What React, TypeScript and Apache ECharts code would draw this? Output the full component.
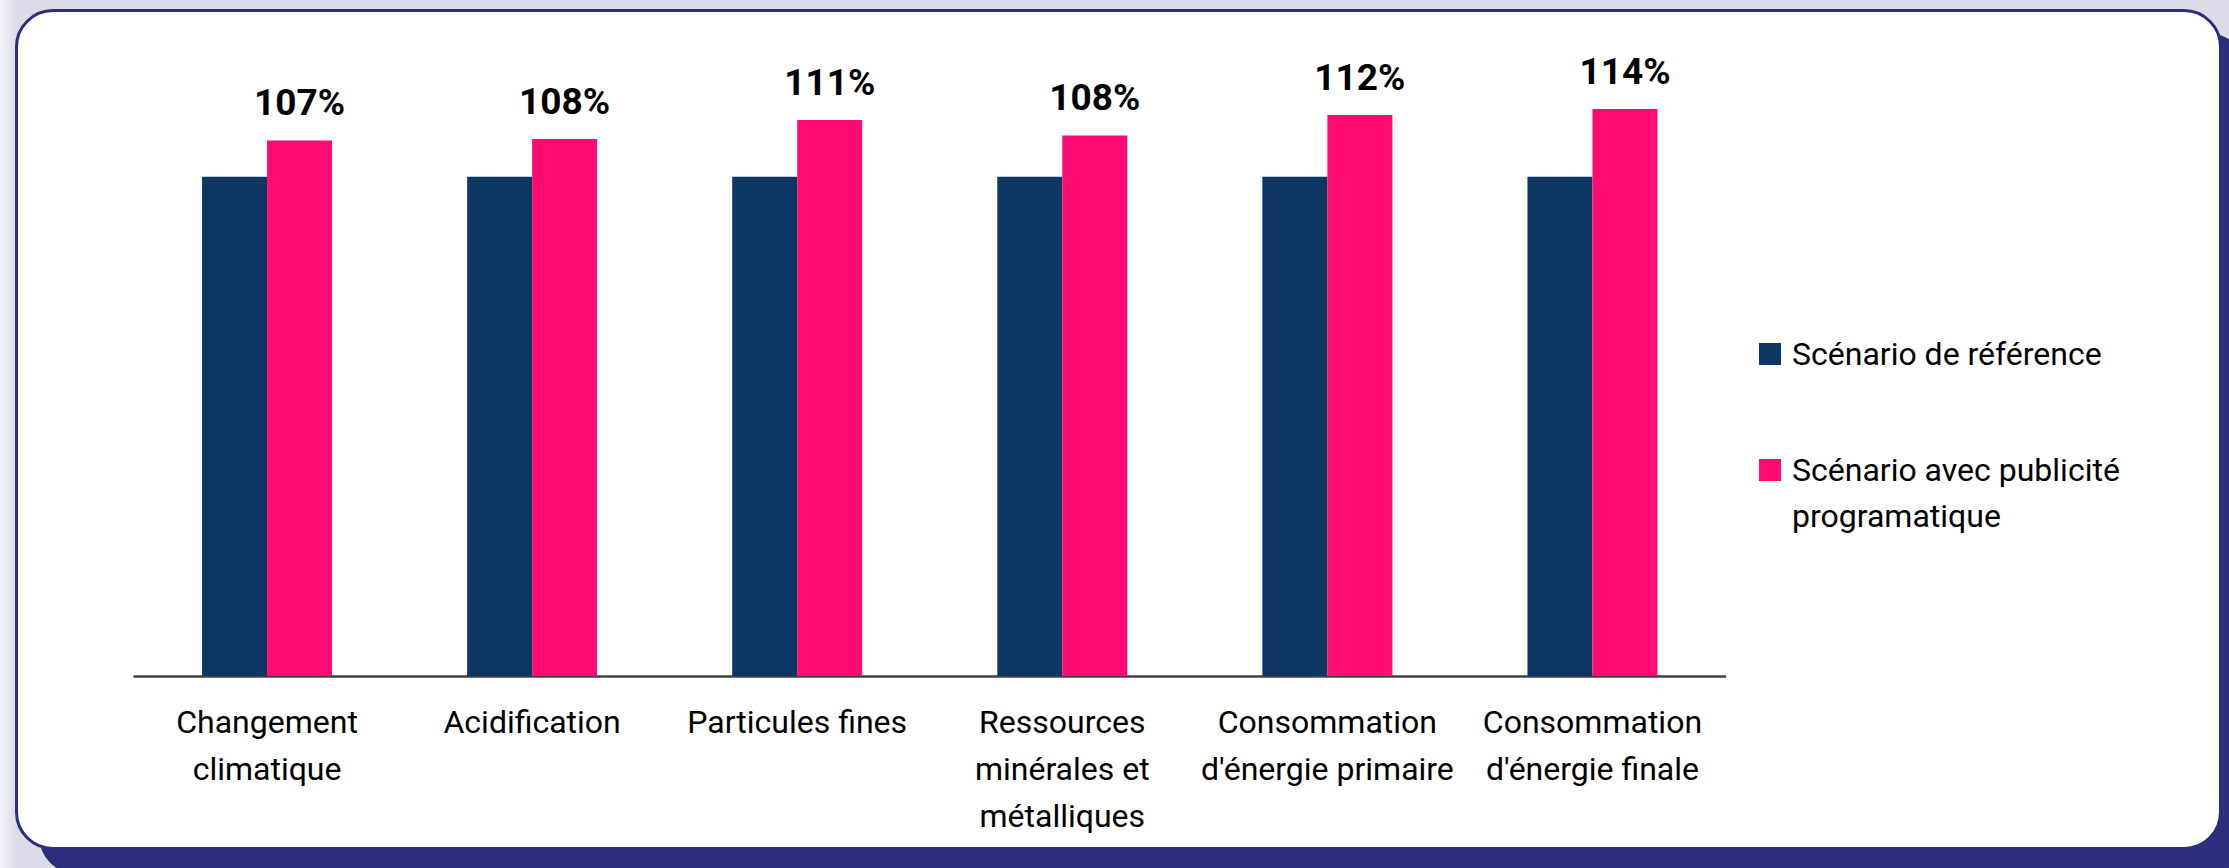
import React, { useEffect, useRef } from "react";
import * as echarts from "echarts";

const categories = [
  "Changement\nclimatique",
  "Acidification",
  "Particules fines",
  "Ressources\nminérales et\nmétalliques",
  "Consommation\nd'énergie primaire",
  "Consommation\nd'énergie finale",
];
const referenceValues = [100, 100, 100, 100, 100, 100];
const programmaticValues = [107.3, 107.6, 111.4, 108.3, 112.4, 113.6];
const seriesNames = ["Scénario de référence", "Scénario avec publicité programatique"];
const legendLabels = ["Scénario de référence", " \nScénario avec publicité\nprogramatique"];
const colors = ["#0b3762", "#ff0b72"];

const FONT = "Roboto, 'Noto Sans', sans-serif";

export default function App() {
  const ref = useRef<HTMLDivElement>(null);

  useEffect(() => {
    if (!ref.current) return;
    const chart = echarts.init(ref.current, undefined, { renderer: "svg" });
    const legendCommon = {
      orient: "vertical",
      left: 1759,
      padding: 0,
      itemWidth: 22,
      itemHeight: 22,
      icon: "rect",
      selectedMode: false,
      formatter: (name: string) => legendLabels[seriesNames.indexOf(name)],
      textStyle: {
        fontFamily: FONT,
        fontSize: 32,
        lineHeight: 46,
        color: "#000",
        padding: [0, 0, 0, 6],
      },
    };
    chart.setOption({
      animation: false,
      textStyle: { fontFamily: FONT },
      grid: { left: 134.5, right: 504, top: 77, bottom: 192 },
      legend: [
        { ...legendCommon, data: [seriesNames[0]], top: 331 },
        { ...legendCommon, data: [seriesNames[1]], top: 401 },
      ],
      xAxis: {
        type: "category",
        data: categories,
        axisLine: { show: true, lineStyle: { color: "#404040", width: 2.5 } },
        axisTick: { show: false },
        axisLabel: {
          interval: 0,
          margin: 22,
          fontFamily: FONT,
          fontSize: 32,
          lineHeight: 47,
          color: "#000",
        },
      },
      yAxis: {
        type: "value",
        min: 0,
        max: 120,
        show: false,
        splitLine: { show: false },
      },
      series: [
        {
          name: seriesNames[0],
          type: "bar",
          data: referenceValues,
          barWidth: 65,
          barGap: "0%",
          itemStyle: { color: colors[0] },
        },
        {
          name: seriesNames[1],
          type: "bar",
          data: programmaticValues,
          barWidth: 65,
          barGap: "0%",
          itemStyle: { color: colors[1] },
          label: {
            show: true,
            position: "top",
            distance: 19,
            fontFamily: FONT,
            fontSize: 37,
            fontWeight: "bold",
            color: "#000",
            formatter: (p: any) => Math.round(p.value) + "%",
          },
        },
      ],
    });
    return () => chart.dispose();
  }, []);

  return (
    <div
      style={{
        position: "fixed",
        left: 0,
        top: 0,
        width: 2229,
        height: 868,
        overflow: "hidden",
        background: "linear-gradient(to right, #f3f3f8 0px, #dcdce9 16px)",
      }}
    >
      <div
        style={{
          position: "absolute",
          left: 15,
          top: 9,
          width: 2222 - 15,
          height: 850 - 9,
          boxSizing: "border-box",
          border: "3px solid #2b2d7d",
          borderRadius: 38,
          background: "#ffffff",
          boxShadow: "24px 24px 0 0 #2b2d7d",
        }}
      />
      <div
        ref={ref}
        style={{ position: "absolute", left: 0, top: 0, width: 2229, height: 868 }}
      />
    </div>
  );
}
